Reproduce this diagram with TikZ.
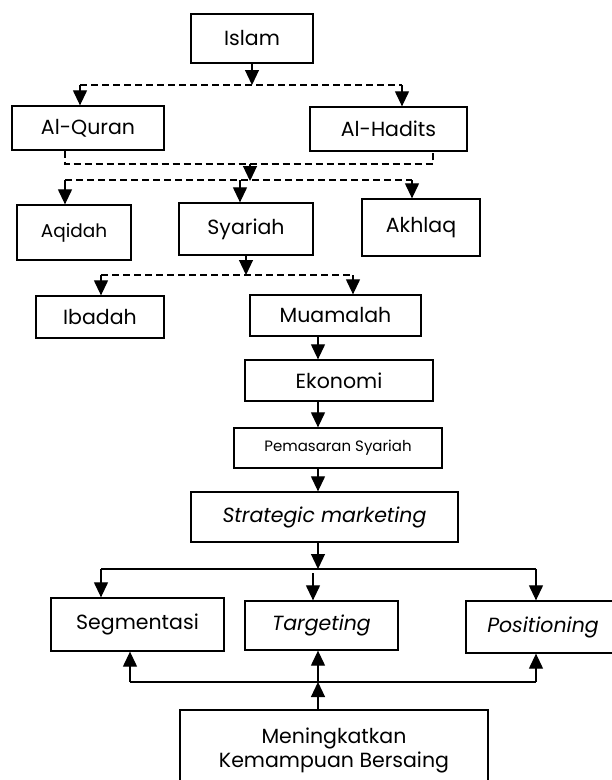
\documentclass[tikz,border=0pt]{standalone}
\usepackage{fontspec}
\setmainfont{Poppins}
\usetikzlibrary{arrows.meta}

\begin{document}
\begin{tikzpicture}[x=1pt,y=-1pt,
    box/.style={draw, rectangle, line width=1.3pt, inner sep=0pt, align=center,
                font=\fontsize{20.5}{24}\selectfont},
    arr/.style={line width=1.2pt, -{Triangle[length=15pt,width=14pt]}},
    dline/.style={line width=1.2pt, dashed, dash pattern=on 7pt off 4pt},
    sline/.style={line width=1.2pt}]
    \useasboundingbox (0,0) rectangle (612,780);

    % boxes
    \node[box, minimum width=122, minimum height=49] (islam) at (252,38.5) {Islam};
    \node[box, minimum width=152, minimum height=44] (quran) at (88,128) {Al-Quran};
    \node[box, minimum width=157, minimum height=44] (hadits) at (388.5,129) {Al-Hadits};
    \node[box, minimum width=114, minimum height=55, font=\fontsize{18.5}{20}\selectfont] (aqidah) at (74,232.5) {Aqidah};
    \node[box, minimum width=134, minimum height=52] (syariah) at (246,229) {Syariah};
    \node[box, minimum width=118, minimum height=57] (akhlaq) at (421,227.5) {Akhlaq};
    \node[box, minimum width=128, minimum height=42] (ibadah) at (100,317) {Ibadah};
    \node[box, minimum width=171, minimum height=41] (muamalah) at (335.5,315.5) {Muamalah};
    \node[box, minimum width=188, minimum height=41] (ekonomi) at (339,380.5) {Ekonomi};
    \node[box, minimum width=208, minimum height=40, font=\fontsize{15}{18}\selectfont] (pemasaran) at (338,448) {Pemasaran Syariah};
    \node[box, minimum width=267, minimum height=50] (strategic) at (324.5,517) {\itshape Strategic marketing};
    \node[box, minimum width=173, minimum height=53] (segmentasi) at (137.5,624.5) {Segmentasi};
    \node[box, minimum width=153, minimum height=49] (targeting) at (321.5,625.5) {\itshape Targeting};
    \node[box, minimum width=154, minimum height=52] (positioning) at (543,627) {\itshape Positioning};
    \node[box, minimum width=308, minimum height=80] (meningkatkan) at (334,750) {Meningkatkan\\Kemampuan Bersaing};

    % Islam -> sumber
    \coordinate (qa) at (80,85);
    \coordinate (ha) at (402,85);
    \draw[arr] (islam.south) -- (islam.south |- qa);
    \draw[dline] (qa) -- (ha);
    \draw[arr] (qa) -- (qa |- quran.north);
    \draw[arr] (ha) -- (ha |- hadits.north);

    % sumber -> aqidah, syariah, akhlaq
    \coordinate (qb) at (65,164);
    \coordinate (hb) at (433,164);
    \coordinate (mb) at (250,164);
    \draw[dline] (qb |- quran.south) -- (qb) -- (hb) -- (hb |- hadits.south);
    \coordinate (sa) at (65,180);
    \coordinate (sb) at (240,180);
    \coordinate (sc) at (412,180);
    \draw[arr] (mb) -- ([yshift=-1pt]mb |- sa);
    \draw[dline] (sa) -- (sc);
    \draw[arr] (sa) -- (sa |- aqidah.north);
    \draw[arr] (sb) -- (sb |- syariah.north);
    \draw[arr] (sc) -- (sc |- akhlaq.north);

    % syariah -> ibadah, muamalah
    \coordinate (ia) at (101,275);
    \coordinate (ma) at (353,275);
    \draw[arr] (syariah.south) -- (syariah.south |- ia);
    \draw[dline] (ia) -- (ma);
    \draw[arr] (ia) -- (ia |- ibadah.north);
    \draw[arr] (ma) -- (ma |- muamalah.north);

    % rantai tengah
    \coordinate (axis) at (318,0);
    \draw[arr] (axis |- muamalah.south) -- (axis |- ekonomi.north);
    \draw[arr] (axis |- ekonomi.south) -- (axis |- pemasaran.north);
    \draw[arr] (axis |- pemasaran.south) -- (axis |- strategic.north);

    % strategic -> STP
    \coordinate (sg) at (101,569);
    \coordinate (tg) at (313,569);
    \coordinate (ps) at (536,569);
    \draw[arr] (axis |- strategic.south) -- (axis |- sg);
    \draw[sline] (sg) -- (ps);
    \draw[arr] (sg) -- (sg |- segmentasi.north);
    \draw[arr] ([yshift=-4pt]tg) -- (tg |- targeting.north);
    \draw[arr] (ps) -- (ps |- positioning.north);

    % meningkatkan -> STP
    \coordinate (su) at (130,682);
    \coordinate (pu) at (536,682);
    \draw[sline] (su) -- (pu);
    \draw[arr] (su) -- (su |- segmentasi.south);
    \draw[arr] (axis |- su) -- (axis |- targeting.south);
    \draw[arr] (pu) -- (pu |- positioning.south);
    \draw[arr] (axis |- meningkatkan.north) -- (axis |- su);
\end{tikzpicture}
\end{document}
